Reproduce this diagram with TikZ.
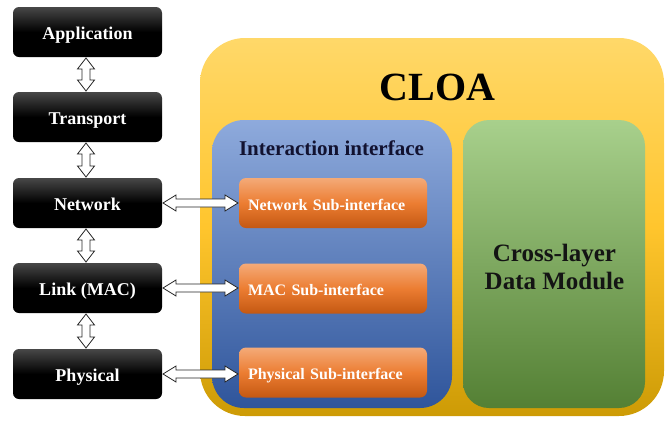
\documentclass[tikz,border=0pt]{standalone}
\usepackage{fontspec}
\setmainfont{Liberation Serif}
\usetikzlibrary{calc}
\definecolor{ylwtop}{RGB}{255,216,105}
\definecolor{ylwmid}{RGB}{255,197,45}
\definecolor{ylwbot}{RGB}{205,155,5}
\definecolor{bluetop}{RGB}{142,170,220}
\definecolor{bluebot}{RGB}{47,85,155}
\definecolor{greentop}{RGB}{168,208,140}
\definecolor{greenbot}{RGB}{84,128,52}
\definecolor{orgtop}{RGB}{244,170,120}
\definecolor{orgmid}{RGB}{236,125,50}
\definecolor{orgbot}{RGB}{196,88,18}
\definecolor{navytext}{RGB}{18,18,48}
\tikzset{
  layerbox/.style={rectangle, rounded corners=6pt, minimum width=149pt, minimum height=50pt,
    inner sep=0pt, outer sep=0pt, top color=black!72, bottom color=black, middle color=black,
    text=white, font=\fontsize{18}{20}\selectfont\bfseries, text height=15.5pt, text depth=0pt},
  subbox/.style={rectangle, rounded corners=7pt, minimum width=188pt, minimum height=50pt,
    inner xsep=9pt, inner ysep=0pt, outer sep=0pt, top color=orgtop, bottom color=orgbot, middle color=orgmid,
    text=white, font=\fontsize{16}{18}\selectfont\bfseries, text width=170pt, align=left,
    text height=14pt, text depth=0pt},
  arrowsty/.style={draw=black!85, line width=0.8pt, fill=white, line join=miter},
}
\newcommand\hdar[2]{\draw[arrowsty] let \p1=(#1.east), \p2=(#2.west) in
  (\x1+1pt,\y1) -- (\x1+14pt,\y1+8pt) -- (\x1+14pt,\y1+4pt) -- (\x2-14pt,\y1+4pt) -- (\x2-14pt,\y1+8pt)
  -- (\x2-1pt,\y1) -- (\x2-14pt,\y1-8pt) -- (\x2-14pt,\y1-4pt) -- (\x1+14pt,\y1-4pt) -- (\x1+14pt,\y1-8pt) -- cycle;}
\newcommand\vdar[2]{\draw[arrowsty] let \p1=(#1.south), \p2=(#2.north) in
  (\x1-1.5pt,\y1-1pt) -- (\x1+7pt,\y1-12pt) -- (\x1+2.5pt,\y1-12pt) -- (\x1+2.5pt,\y2+12pt) -- (\x1+7pt,\y2+12pt)
  -- (\x1-1.5pt,\y2+1pt) -- (\x1-10pt,\y2+12pt) -- (\x1-5.5pt,\y2+12pt) -- (\x1-5.5pt,\y1-12pt) -- (\x1-10pt,\y1-12pt) -- cycle;}
\begin{document}
\begin{tikzpicture}[x=1pt,y=-1pt]
\useasboundingbox (0,0) rectangle (672,421);
% CLOA container
\node[rectangle, rounded corners=45pt, minimum width=464pt, minimum height=378pt, outer sep=0pt,
  top color=ylwtop, bottom color=ylwbot, middle color=ylwmid] (cloa) at (432,227) {};
\node[anchor=base, font=\fontsize{40}{44}\selectfont\bfseries, inner sep=0pt] (cloatitle) at (437.5,100) {CLOA};
% interaction interface
\node[rectangle, rounded corners=32pt, minimum width=240pt, minimum height=288pt, outer sep=0pt,
  top color=bluetop, bottom color=bluebot] (iface) at (332,264) {};
\node[anchor=base, font=\fontsize{21}{24}\selectfont\bfseries, text=navytext, inner sep=0pt] (ifacetitle) at (331.5,155.5) {Interaction interface};
% data module
\node[rectangle, rounded corners=26pt, minimum width=182pt, minimum height=288pt, outer sep=0pt,
  top color=greentop, bottom color=greenbot] (dmod) at (554,264) {};
\node[align=center, font=\fontsize{25}{28}\selectfont\bfseries, text=black!92, inner sep=0pt] (dmodtext) at (554.5,267) {Cross-layer\\Data Module};
% sub-interfaces
\node[subbox] (nsub) at (333,203) {Network Sub-interface};
\node[subbox] (msub) at (333,288.5) {MAC Sub-interface};
\node[subbox] (psub) at (333,372.5) {Physical Sub-interface};
% layers
\node[layerbox] (app) at (87.5,32) {Application};
\node[layerbox] (trans) at (87.5,117) {Transport};
\node[layerbox] (net) at (87.5,203) {Network};
\node[layerbox] (link) at (87.5,288) {Link (MAC)};
\node[layerbox] (phy) at (87.5,374) {Physical};
% arrows
\vdar{app}{trans}
\vdar{trans}{net}
\vdar{net}{link}
\vdar{link}{phy}
\hdar{net}{nsub}
\hdar{link}{msub}
\hdar{phy}{psub}
\end{tikzpicture}
\end{document}
